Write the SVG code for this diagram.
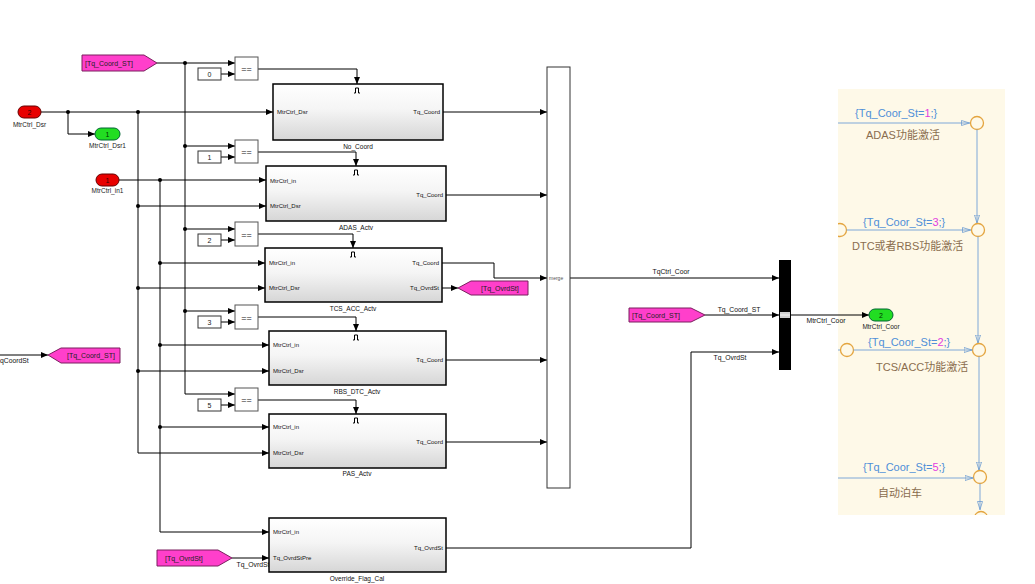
<svg xmlns="http://www.w3.org/2000/svg" width="1035" height="584" viewBox="0 0 1035 584">
<defs>
<linearGradient id="g" x1="0" y1="0" x2="0" y2="1"><stop offset="0" stop-color="#ffffff"/><stop offset="0.45" stop-color="#f5f5f5"/><stop offset="1" stop-color="#d6d6d6"/></linearGradient>
<marker id="a" viewBox="0 0 7 6" refX="7" refY="3" markerWidth="7" markerHeight="6" markerUnits="userSpaceOnUse" orient="auto"><path d="M0,0 L7,3 L0,6 z" fill="#000"/></marker>
<marker id="ob" viewBox="0 0 9 6" refX="9" refY="3" markerWidth="9" markerHeight="6" markerUnits="userSpaceOnUse" orient="auto"><path d="M0.5,0.5 L8.5,3 L0.5,5.5 z" fill="none" stroke="#6b9bd1" stroke-width="0.8"/></marker>
<clipPath id="cc"><rect x="838" y="89" width="167" height="426"/></clipPath>
<style>
.blk{fill:url(#g);stroke:#000;stroke-width:1.5}
.eq{fill:#fff;stroke:#555;stroke-width:1}
.cst{fill:#fff;stroke:#333;stroke-width:1}
.tag{fill:#ff3fcb;stroke:#7a1f5e;stroke-width:1}
.w{fill:none;stroke:#000;stroke-width:1}
.wa{fill:none;stroke:#000;stroke-width:1;marker-end:url(#a)}
.in{fill:#e80000;stroke:#600;stroke-width:1}
.out{fill:#22dd22;stroke:#063;stroke-width:1}
.trg{fill:none;stroke:#000;stroke-width:1}
.t{font-family:"Liberation Sans",Arial,sans-serif;font-size:6px;fill:#111}
.tn{font-family:"Liberation Sans",Arial,sans-serif;font-size:6.5px;fill:#111;text-anchor:middle}
.tl{font-family:"Liberation Sans",Arial,sans-serif;font-size:6.8px;fill:#111;text-anchor:middle}
.tt{font-family:"Liberation Sans",Arial,sans-serif;font-size:7px;fill:#222}
.tc{font-family:"Liberation Sans",Arial,sans-serif;font-size:7px;fill:#222;text-anchor:middle}
.te{font-family:"Liberation Sans",Arial,sans-serif;font-size:9px;fill:#111;text-anchor:middle}
.r{text-anchor:end}
.cl{fill:none;stroke:#7fa8d8;stroke-width:1}
.cla{fill:none;stroke:#7fa8d8;stroke-width:1;marker-end:url(#ob)}
.jn{fill:none;stroke:#e4a53f;stroke-width:1.3}
.cb{font-family:"Liberation Sans",Arial,sans-serif;font-size:11px;fill:#4f8fd8}
.cz{font-family:"Liberation Sans","Noto Sans CJK SC",sans-serif;font-size:11px;fill:#8a6d4e}
.mg{fill:#e23de0}
</style>
</defs>

<g id="chart" clip-path="url(#cc)">
<rect x="838" y="89" width="167" height="426" fill="#fef9e8"/>
<path class="cla" d="M838,123 H970"/>
<circle class="jn" cx="977" cy="123" r="6.5"/>
<path class="cla" d="M977,129.5 V223.5"/>
<circle class="jn" cx="978" cy="230" r="6.5"/>
<circle class="jn" cx="840" cy="230" r="6.5"/>
<path class="cla" d="M846.5,230 H971"/>
<path class="cla" d="M978,236.5 V343.5"/>
<circle class="jn" cx="979" cy="350" r="6.5"/>
<path class="cl" d="M838,350 H840.5"/>
<circle class="jn" cx="847" cy="350" r="6.5"/>
<path class="cla" d="M853.5,350 H972.5"/>
<path class="cla" d="M979,356.5 V470.5"/>
<circle class="jn" cx="980" cy="477" r="6.5"/>
<path class="cla" d="M838,478 H973.5"/>
<path class="cla" d="M980,483.5 V510"/>
<circle class="jn" cx="981" cy="518" r="6.5"/>
<text class="cb" x="855" y="117">{Tq_Coor_St=<tspan class="mg">1</tspan>;}</text>
<text class="cz" x="866" y="139">ADAS功能激活</text>
<text class="cb" x="863" y="226">{Tq_Coor_St=<tspan class="mg">3</tspan>;}</text>
<text class="cz" x="852" y="250">DTC或者RBS功能激活</text>
<text class="cb" x="868" y="346">{Tq_Coor_St=<tspan class="mg">2</tspan>;}</text>
<text class="cz" x="876" y="371">TCS/ACC功能激活</text>
<text class="cb" x="863" y="471">{Tq_Coor_St=<tspan class="mg">5</tspan>;}</text>
<text class="cz" x="878" y="497">自动泊车</text>
</g>

<g id="connectors">
<path class="wa" d="M157,63 H235"/>
<path class="wa" d="M185,63 V394 H235"/>
<path class="wa" d="M185,146 H235"/>
<path class="wa" d="M185,229 H235"/>
<path class="wa" d="M185,311 H235"/>
<path class="wa" d="M221,74 H235"/>
<path class="wa" d="M221,157 H235"/>
<path class="wa" d="M221,240 H235"/>
<path class="wa" d="M221,322 H235"/>
<path class="wa" d="M221,405 H235"/>
<path class="wa" d="M258,69 H357 V84"/>
<path class="wa" d="M258,152 H356 V166"/>
<path class="wa" d="M258,234 H353 V248"/>
<path class="wa" d="M258,317 H356 V331"/>
<path class="wa" d="M258,400 H356 V414"/>
<path class="wa" d="M41,112 H273"/>
<path class="wa" d="M68,112 V134 H95"/>
<path class="wa" d="M138,112 V453 H269"/>
<path class="wa" d="M138,206 H266"/>
<path class="wa" d="M138,288 H265"/>
<path class="wa" d="M138,371 H269"/>
<path class="wa" d="M119,180 H266"/>
<path class="wa" d="M160,180 V532 H269"/>
<path class="wa" d="M160,263 H265"/>
<path class="wa" d="M160,345 H269"/>
<path class="wa" d="M160,427 H269"/>
<path class="wa" d="M443,112 H547"/>
<path class="wa" d="M446,195 H547"/>
<path class="wa" d="M442,263 H494 V278 H547"/>
<path class="wa" d="M446,360 H547"/>
<path class="wa" d="M446,442 H547"/>
<path class="wa" d="M442,288 H458"/>
<path class="wa" d="M570,278 H779"/>
<path class="wa" d="M705,315 H779"/>
<path class="wa" d="M446,548 H691 V352 H779"/>
<path class="wa" d="M791,315 H869"/>
<path class="wa" d="M232,558 H269"/>
<path class="wa" d="M0,355 H48"/>
<g fill="#000">
<circle cx="185" cy="63" r="2"/><circle cx="185" cy="146" r="2"/><circle cx="185" cy="229" r="2"/><circle cx="185" cy="311" r="2"/>
<circle cx="68" cy="112" r="2"/><circle cx="138" cy="112" r="2"/><circle cx="138" cy="206" r="2"/><circle cx="138" cy="288" r="2"/><circle cx="138" cy="371" r="2"/>
<circle cx="160" cy="180" r="2"/><circle cx="160" cy="263" r="2"/><circle cx="160" cy="345" r="2"/><circle cx="160" cy="427" r="2"/>
</g>
<text class="tl" x="671" y="274">TqCtrl_Coor</text>
<text class="tl" x="739" y="312">Tq_Coord_ST</text>
<text class="tl" x="730" y="360">Tq_OvrdSt</text>
<text class="tl" x="826" y="323">MtrCtrl_Coor</text>
<text class="tl" x="253" y="567">Tq_OvrdSt</text>
<text class="t" x="0" y="363" style="font-size:6.8px">qCoordSt</text>
</g>

<g id="tag_coord_st_top"><polygon class="tag" points="82,55 144,55 157,63 144,71 82,71"/><text class="tt" x="85" y="66">[Tq_Coord_ST]</text></g>
<g id="tag_ovrdst_goto"><polygon class="tag" points="458,288 471,281 528,281 528,295 471,295"/><text class="tt" x="481" y="291">[Tq_OvrdSt]</text></g>
<g id="tag_coord_st_left"><polygon class="tag" points="48,355 61,348 120,348 120,363 61,363"/><text class="tt" x="67" y="358">[Tq_Coord_ST]</text></g>
<g id="tag_coord_st_right"><polygon class="tag" points="629,308 691,308 705,315 691,322 629,322"/><text class="tt" x="632" y="318">[Tq_Coord_ST]</text></g>
<g id="tag_ovrdst_from"><polygon class="tag" points="157,550 218,550 232,558 218,566 157,566"/><text class="tt" x="165" y="561">[Tq_OvrdSt]</text></g>

<g id="in_dsr"><rect class="in" x="18" y="106" width="23" height="12" rx="6"/><text class="tc" x="29.5" y="114.5" style="fill:#300">2</text><text class="tc" x="29.5" y="127" style="font-size:6.5px">MtrCtrl_Dsr</text></g>
<g id="out_dsr1"><rect class="out" x="95" y="128" width="25" height="12" rx="6"/><text class="tc" x="107.5" y="136.5" style="fill:#030">1</text><text class="tc" x="107.5" y="148" style="font-size:6.5px">MtrCtrl_Dsr1</text></g>
<g id="in_in1"><rect class="in" x="96" y="174" width="23" height="12" rx="6"/><text class="tc" x="107.5" y="182.5" style="fill:#300">1</text><text class="tc" x="107.5" y="193" style="font-size:6.5px">MtrCtrl_in1</text></g>
<g id="out_coor"><rect class="out" x="869" y="309" width="24" height="12" rx="6"/><text class="tc" x="881" y="317.5" style="fill:#030">2</text><text class="tc" x="881" y="329" style="font-size:6.5px">MtrCtrl_Coor</text></g>

<g id="eq0"><rect class="eq" x="235" y="57" width="23" height="23"/><text class="te" x="246.5" y="72">==</text><rect class="cst" x="198" y="68" width="23" height="12"/><text class="tc" x="209.5" y="76.5">0</text></g>
<g id="eq1"><rect class="eq" x="235" y="140" width="23" height="23"/><text class="te" x="246.5" y="155">==</text><rect class="cst" x="198" y="151" width="23" height="12"/><text class="tc" x="209.5" y="159.5">1</text></g>
<g id="eq2"><rect class="eq" x="235" y="222" width="23" height="24"/><text class="te" x="246.5" y="237.5">==</text><rect class="cst" x="198" y="234" width="23" height="12"/><text class="tc" x="209.5" y="242.5">2</text></g>
<g id="eq3"><rect class="eq" x="235" y="305" width="23" height="24"/><text class="te" x="246.5" y="320.5">==</text><rect class="cst" x="198" y="316" width="23" height="12"/><text class="tc" x="209.5" y="324.5">3</text></g>
<g id="eq5"><rect class="eq" x="235" y="388" width="23" height="23"/><text class="te" x="246.5" y="403">==</text><rect class="cst" x="198" y="399" width="23" height="12"/><text class="tc" x="209.5" y="407.5">5</text></g>

<g id="No_Coord"><rect class="blk" x="273" y="84" width="170" height="56"/><path class="trg" d="M354,93 H355.5 V88 H358.5 V93 H360"/><text class="t" x="277" y="114">MtrCtrl_Dsr</text><text class="t r" x="440" y="114">Tq_Coord</text><text class="tn" x="358" y="149">No_Coord</text></g>
<g id="ADAS_Actv"><rect class="blk" x="266" y="166" width="180" height="55"/><path class="trg" d="M353,175 H354.5 V170 H357.5 V175 H359"/><text class="t" x="270" y="183">MtrCtrl_in</text><text class="t" x="270" y="208">MtrCtrl_Dsr</text><text class="t r" x="443" y="197">Tq_Coord</text><text class="tn" x="356" y="230">ADAS_Actv</text></g>
<g id="TCS_ACC_Actv"><rect class="blk" x="265" y="248" width="177" height="54"/><path class="trg" d="M350,257 H351.5 V252 H354.5 V257 H356"/><text class="t" x="269" y="265">MtrCtrl_in</text><text class="t" x="269" y="290">MtrCtrl_Dsr</text><text class="t r" x="439" y="265">Tq_Coord</text><text class="t r" x="439" y="290">Tq_OvrdSt</text><text class="tn" x="353" y="311">TCS_ACC_Actv</text></g>
<g id="RBS_DTC_Actv"><rect class="blk" x="269" y="331" width="177" height="54"/><path class="trg" d="M353,340 H354.5 V335 H357.5 V340 H359"/><text class="t" x="273" y="347">MtrCtrl_in</text><text class="t" x="273" y="373">MtrCtrl_Dsr</text><text class="t r" x="443" y="362">Tq_Coord</text><text class="tn" x="357" y="394">RBS_DTC_Actv</text></g>
<g id="PAS_Actv"><rect class="blk" x="269" y="414" width="177" height="54"/><path class="trg" d="M353,423 H354.5 V418 H357.5 V423 H359"/><text class="t" x="273" y="429">MtrCtrl_in</text><text class="t" x="273" y="455">MtrCtrl_Dsr</text><text class="t r" x="443" y="444">Tq_Coord</text><text class="tn" x="357" y="476">PAS_Actv</text></g>
<g id="Override_Flag_Cal"><rect class="blk" x="269" y="518" width="177" height="54"/><text class="t" x="273" y="534">MtrCtrl_in</text><text class="t" x="273" y="560">Tq_OvrdStPre</text><text class="t r" x="443" y="550">Tq_OvrdSt</text><text class="tn" x="357" y="581">Override_Flag_Cal</text></g>

<g id="merge"><rect x="547" y="67" width="23" height="421" fill="#fff" stroke="#333" stroke-width="1"/><text x="549" y="280" style="font-family:'Liberation Sans',Arial,sans-serif;font-size:5px;fill:#555">merge</text></g>
<g id="mux"><rect x="779" y="260" width="12" height="110" fill="#000"/><rect x="780" y="312" width="10" height="6" fill="#cfcfcf"/><path d="M780,315 H790" stroke="#fff" stroke-width="0.8"/></g>
</svg>
